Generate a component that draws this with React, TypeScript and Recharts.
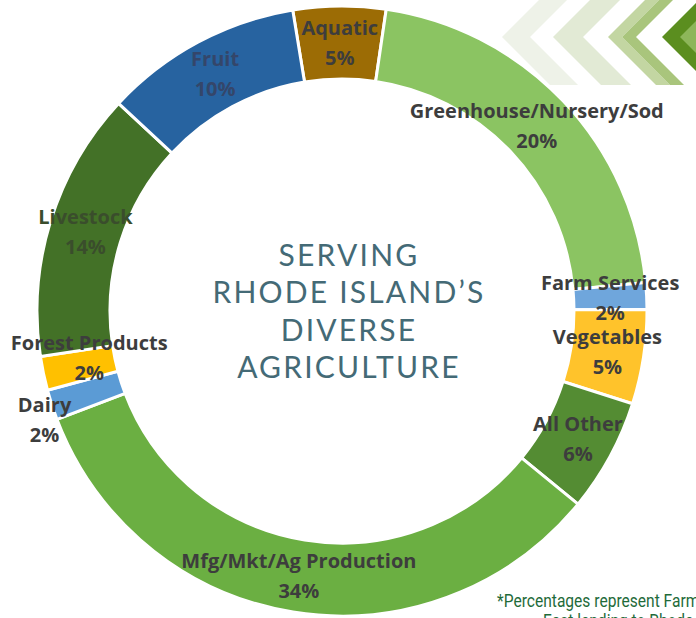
import React from 'react'
import { PieChart, Pie, Cell } from 'recharts'

// sectors in clockwise order starting at the top (Aquatic)
const sectors = [
  'Aquatic',
  'Greenhouse/Nursery/Sod',
  'Farm Services',
  'Vegetables',
  'All Other',
  'Mfg/Mkt/Ag Production',
  'Dairy',
  'Forest Products',
  'Livestock',
  'Fruit',
]
const shares = [4.9, 21.2, 1.4, 5.0, 6.0, 33.3, 1.6, 1.8, 14.3, 10.5]
const shownPct = ['5%', '20%', '2%', '5%', '6%', '34%', '2%', '2%', '14%', '10%']
const colors = [
  '#9C6C05',
  '#8BC462',
  '#6FA6DC',
  '#FFC32B',
  '#548C33',
  '#6BAF42',
  '#5B9BD5',
  '#FFC000',
  '#437127',
  '#2763A0',
]
const centerLines = ['SERVING', 'RHODE ISLAND\u2019S', 'DIVERSE', 'AGRICULTURE']

const data = sectors.map((name, i) => ({ name, value: shares[i], pct: shownPct[i] }))

// labels Excel pushed aside to avoid overlap
const LABEL_NUDGE: Record<string, [number, number]> = {
  Dairy: [-42, 26],
  'Forest Products': [10, -8],
}
const LABEL_FILL: Record<string, string> = {
  Fruit: '#34466a',
  Livestock: '#3a4d2c',
}

const RAD = Math.PI / 180

// eslint-disable-next-line @typescript-eslint/no-explicit-any
const renderLabel = (p: any) => {
  const { cx, cy, midAngle, innerRadius, outerRadius, index } = p
  const name = sectors[index]
  const [dx, dy] = LABEL_NUDGE[name] ?? [0, 0]
  const r = (innerRadius + outerRadius) / 2
  const x = cx + r * Math.cos(-midAngle * RAD) + dx
  const y = cy + r * Math.sin(-midAngle * RAD) + dy
  return (
    <text
      x={x}
      y={y}
      textAnchor="middle"
      fill={LABEL_FILL[name] ?? '#3d3d3d'}
      style={{ fontFamily: '"Open Sans", sans-serif', fontWeight: 700, fontSize: 20 }}
    >
      <tspan x={x} y={y - 8}>{name}</tspan>
      <tspan x={x} y={y + 22}>{shownPct[index]}</tspan>
    </text>
  )
}

function Chevrons() {
  const chev = (tx: number, w: number) => {
    const ty = 37
    return `${tx},${ty} ${tx + 50},${ty - 50} ${tx + 50 + w},${ty - 50} ${tx + w},${ty} ${tx + 50 + w},${ty + 50} ${tx + 50},${ty + 50}`
  }
  return (
    <svg width={696} height={618} style={{ position: 'absolute', left: 0, top: 0 }}>
      <defs>
        <clipPath id="band">
          <rect x={480} y={0} width={216} height={85} />
        </clipPath>
      </defs>
      <g clipPath="url(#band)">
        <polygon points={chev(502, 28)} fill="#eef2e8" />
        <polygon points={chev(553, 30)} fill="#e2eAd5" />
        <polygon points={chev(608, 14)} fill="#c3d6a2" />
        <polygon points={chev(622, 14)} fill="#a9c57c" />
        <polygon points={chev(662, 60)} fill="#5b8e1f" />
        <polygon points={chev(680, 40)} fill="#8db65a" />
      </g>
    </svg>
  )
}

export default function App() {
  return (
    <div
      style={{
        position: 'fixed',
        left: 0,
        top: 0,
        width: 696,
        height: 618,
        overflow: 'hidden',
        background: '#fff',
      }}
    >
      <Chevrons />
      <div style={{ position: 'absolute', left: 0, top: 0 }}>
        <PieChart width={696} height={618} margin={{ top: 0, right: 0, bottom: 0, left: 0 }}>
          <Pie
            data={data}
            dataKey="value"
            nameKey="name"
            cx={342}
            cy={311}
            innerRadius={232}
            outerRadius={305}
            startAngle={99.3}
            endAngle={-260.7}
            stroke="#ffffff"
            strokeWidth={3}
            label={renderLabel}
            labelLine={false}
            isAnimationActive={false}
          >
            {data.map((d, i) => (
              <Cell key={d.name} fill={colors[i]} />
            ))}
          </Pie>
        </PieChart>
      </div>
      <svg width={696} height={618} style={{ position: 'absolute', left: 0, top: 0, pointerEvents: 'none' }}>
        {centerLines.map((line, i) => (
          <text
            key={line}
            x={349}
            y={266 + i * 37.3}
            textAnchor="middle"
            fill="#446a76"
            style={{ fontFamily: 'Lato, sans-serif', fontSize: 30, letterSpacing: 2.2 }}
          >
            {line}
          </text>
        ))}
        <g transform="translate(497,607) scale(0.82,1)" fill="#1f6b3a" style={{ fontFamily: 'Roboto, sans-serif', fontSize: 19 }}>
          <text x={0} y={0}>*Percentages represent Farm Credit East</text>
          <text x={56} y={20}>East lending to Rhode Island</text>
        </g>
      </svg>
    </div>
  )
}
